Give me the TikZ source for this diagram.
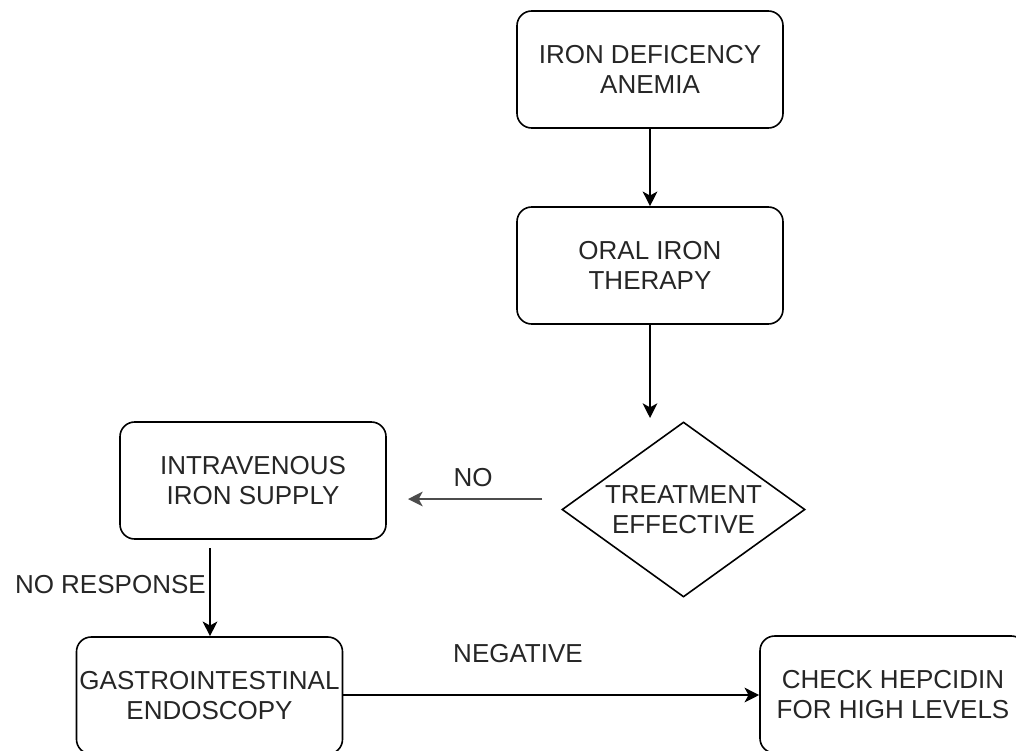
\documentclass[tikz,border=0pt]{standalone}
\usepackage{fontspec}
\setmainfont{Liberation Sans}
\usetikzlibrary{shapes.geometric,arrows.meta}
\begin{document}
\begin{tikzpicture}[x=0.75pt,y=-0.75pt,
  every node/.style={font=\fontsize{19.5}{22.5}\selectfont, text=black!85},
  stepbox/.style={draw=black, line width=1.2pt, rounded corners=11pt,
    minimum width=199.5pt, minimum height=87.75pt, align=center, inner sep=0pt},
  decision/.style={draw=black, line width=1.2pt, shape=diamond, inner sep=0pt,
    minimum width=182.25pt, minimum height=131.25pt},
  lbl/.style={align=center, inner sep=0pt},
  conn/.style={draw=black, line width=1.2pt, -{Stealth[length=11pt,width=11pt,inset=3pt]}}
]
\useasboundingbox (0,0) rectangle (1016,750);
\node[stepbox] (b1) at (650,69.5) {IRON DEFICENCY\\ANEMIA};
\node[stepbox] (b2) at (650,265.5) {ORAL IRON\\THERAPY};
\node[decision] (d) at (683.5,509.5) {};
\node[lbl] (dt) at (683.5,509.5) {TREATMENT\\EFFECTIVE};
\node[stepbox] (iv) at (253,480.5) {INTRAVENOUS\\IRON SUPPLY};
\node[stepbox] (gi) at (209.5,695.5) {GASTROINTESTINAL\\ENDOSCOPY};
\node[stepbox] (ch) at (893,694.5) {CHECK HEPCIDIN\\FOR HIGH LEVELS};

\coordinate (a2end) at (650,418);
\coordinate (nostart) at (542,499);
\coordinate (noend) at (408,499);
\coordinate (nrstart) at (210,548);

\draw[conn] (b1.south) -- (b2.north);
\draw[conn] (b2.south) -- (a2end);
\draw[conn, draw=black!70, fill=black!70] (nostart) -- (noend);
\node[lbl] (nol) at (473,478) {NO};
\draw[conn] (nrstart) -- (nrstart |- gi.north);
\node[lbl, anchor=east] (nrl) at (206,585) {NO RESPONSE};
\draw[conn] (gi.east |- 0,695) -- (ch.west |- 0,695);
\node[lbl] (negl) at (518,654) {NEGATIVE};
\end{tikzpicture}
\end{document}
